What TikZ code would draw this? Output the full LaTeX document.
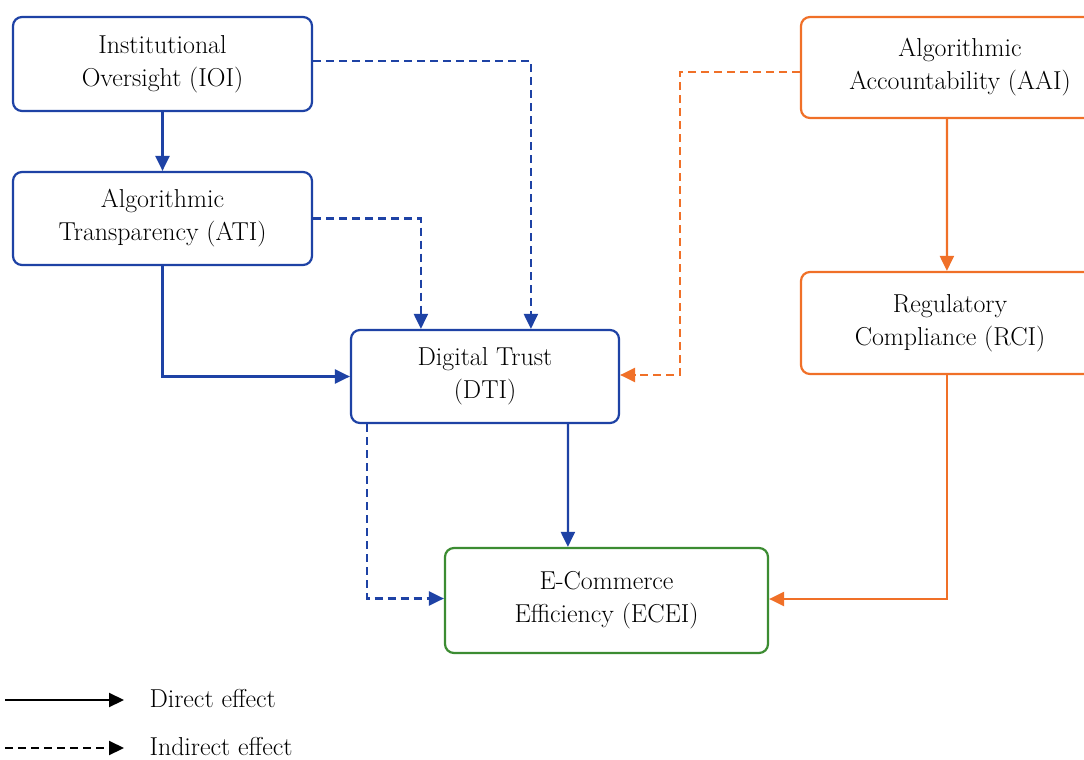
\documentclass[tikz,border=0pt]{standalone}
\usepackage{fontspec}
\usetikzlibrary{arrows.meta,calc}
\definecolor{cblue}{RGB}{30,66,165}
\definecolor{corange}{RGB}{240,112,40}
\definecolor{cgreen}{RGB}{60,140,50}
\begin{document}
\begin{tikzpicture}[x=1bp,y=-1bp,
  box/.style={draw,line width=2.2bp,rounded corners=9bp,align=center,
    font=\fontsize{26}{33}\selectfont,text=black,inner sep=0pt},
  bluebox/.style={box,draw=cblue},
  orangebox/.style={box,draw=corange},
  greenbox/.style={box,draw=cgreen},
  conn/.style={line width=2.2bp,-{Triangle[length=15bp,width=14bp]}},
  indirect/.style={conn,dash pattern=on 8bp off 5bp},
  legtext/.style={anchor=west,font=\fontsize{26}{30}\selectfont,text=black}]
\path[use as bounding box,clip] (0,0) rectangle (1084,760);
\fill[white] (0,0) rectangle (1084,760);
% nodes
\node[bluebox,minimum width=299bp,minimum height=94bp] (ioi) at (162.5,64) {Institutional\\Oversight (IOI)};
\node[bluebox,minimum width=299bp,minimum height=93bp] (ati) at (162.5,218.5) {Algorithmic\\Transparency (ATI)};
\node[bluebox,minimum width=268bp,minimum height=93bp] (dti) at (485,376.5) {Digital Trust\\(DTI)};
\node[greenbox,minimum width=323bp,minimum height=105bp] (ecei) at (606.5,600.5) {E-Commerce\\Efficiency (ECEI)};
\node[orangebox,minimum width=318bp,minimum height=101bp] (aai) at (960,67.5) {Algorithmic\\Accountability (AAI)};
\node[orangebox,minimum width=298bp,minimum height=102bp] (rci) at (950,323) {Regulatory\\Compliance (RCI)};
% blue connectors
\draw[conn,cblue] (ioi.south) -- (ati.north);
\draw[conn,cblue] (ati.south) |- (dti.west);
\draw[indirect,cblue] (ati.east) -| ($(dti.north west)+(71,0)$);
\draw[indirect,cblue] ($(ioi.east)+(0,-3)$) -| ($(dti.north west)+(181,0)$);
\draw[conn,cblue] ($(dti.south west)+(218,0)$) -- ($(ecei.north west)+(124,0)$);
\draw[indirect,cblue] ($(dti.south west)+(17,0)$) |- ($(ecei.west)+(0,-2)$);
% orange connectors
\draw[indirect,corange] ($(aai.west)+(0,4.5)$) -| (680,375) -- ($(dti.east)+(0,-1.5)$);
\draw[conn,corange] ($(aai.south west)+(147,0)$) -- ($(rci.north west)+(147,0)$);
\draw[conn,corange] ($(rci.south west)+(147,0)$) |- ($(ecei.east)+(0,-1.5)$);
% legend
\coordinate (l1s) at (5,700);
\coordinate (l1e) at (124,700);
\coordinate (l2s) at (5,748);
\coordinate (l2e) at (124,748);
\draw[conn,black] (l1s) -- (l1e);
\draw[indirect,black] (l2s) -- (l2e);
\node[legtext] (l1t) at (146,699) {Direct effect};
\node[legtext] (l2t) at (146,747) {Indirect effect};
\end{tikzpicture}
\end{document}
